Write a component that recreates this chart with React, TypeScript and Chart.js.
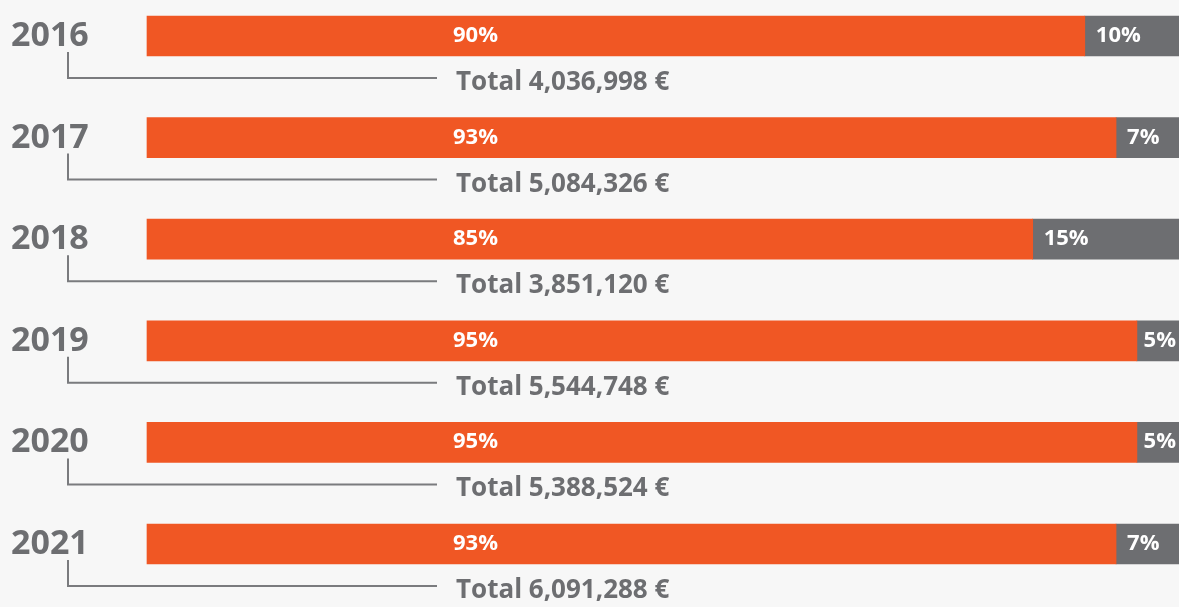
import React, { useEffect, useRef } from "react";
import { Chart, registerables } from "chart.js";

Chart.register(...registerables);

const years = ["2016", "2017", "2018", "2019", "2020", "2021"];
const mainShare = [90, 93, 85, 95, 95, 93];
const otherShare = [10, 7, 15, 5, 5, 7];
const totals = [4036998, 5084326, 3851120, 5544748, 5388524, 6091288];

const ORANGE = "#f05724";
const GREY = "#6d6e71";
const LINE = "#7a7b7e";
const BG = "#f7f7f7";
const FONT = "'Open Sans', 'Noto Sans', sans-serif";
const VISIBLE_W = 1179;

const annotate = {
  id: "annotate",
  beforeDraw(chart: any) {
    const { ctx, width, height } = chart;
    ctx.save();
    ctx.fillStyle = BG;
    ctx.fillRect(0, 0, width, height);
    ctx.restore();
  },
  afterDatasetsDraw(chart: any) {
    const { ctx, chartArea } = chart;
    const xs = chart.scales.x;
    const ys = chart.scales.y;
    const left = chartArea.left;
    ctx.save();
    years.forEach((yr, i) => {
      const cy = ys.getPixelForValue(i);
      // year label
      ctx.fillStyle = GREY;
      ctx.font = `700 34px ${FONT}`;
      ctx.textAlign = "left";
      ctx.textBaseline = "alphabetic";
      ctx.fillText(yr, 11, cy + 10);
      // connector
      const lineY = cy + 42;
      ctx.strokeStyle = LINE;
      ctx.lineWidth = 2;
      ctx.beginPath();
      ctx.moveTo(68, cy + 16);
      ctx.lineTo(68, lineY);
      ctx.lineTo(left + 290, lineY);
      ctx.stroke();
      // total label
      ctx.fillStyle = GREY;
      ctx.font = `700 26px ${FONT}`;
      ctx.fillText(
        "Total " + totals[i].toLocaleString("en-US") + " €",
        left + 309,
        lineY + 12
      );
      // percentage labels
      ctx.fillStyle = "#ffffff";
      ctx.font = `700 22px ${FONT}`;
      ctx.fillText(mainShare[i] + "%", left + 306, cy + 6);
      const gx = xs.getPixelForValue(mainShare[i]);
      const txt = otherShare[i] + "%";
      const w = ctx.measureText(txt).width;
      ctx.fillText(txt, Math.min(gx + 11, VISIBLE_W - w - 3), cy + 6);
    });
    ctx.restore();
  },
};

export default function App() {
  const ref = useRef<HTMLCanvasElement | null>(null);

  useEffect(() => {
    document.body.style.margin = "0";
    document.body.style.background = BG;
    if (!ref.current) return;
    const chart = new Chart(ref.current, {
      type: "bar",
      data: {
        labels: years,
        datasets: [
          {
            label: "main",
            data: mainShare,
            backgroundColor: ORANGE,
            barThickness: 40,
            clip: false as any,
          },
          {
            label: "other",
            data: otherShare,
            backgroundColor: GREY,
            barThickness: 40,
            clip: false as any,
          },
        ],
      },
      options: {
        indexAxis: "y",
        animation: false,
        responsive: false,
        layout: { padding: { left: 147, right: 1, top: 36, bottom: 63 } },
        plugins: {
          legend: { display: false },
          tooltip: { enabled: false },
        },
        scales: {
          x: { stacked: true, min: 0, max: 100, display: false },
          y: { stacked: true, offset: false, display: false, grid: { display: false } },
        },
      },
      plugins: [annotate],
    });
    return () => chart.destroy();
  }, []);

  return (
    <div style={{ position: "fixed", left: 0, top: 0, width: VISIBLE_W, height: 607, overflow: "hidden", background: BG }}>
      <canvas ref={ref} width={1190} height={607} style={{ width: 1190, height: 607, display: "block" }} />
    </div>
  );
}
